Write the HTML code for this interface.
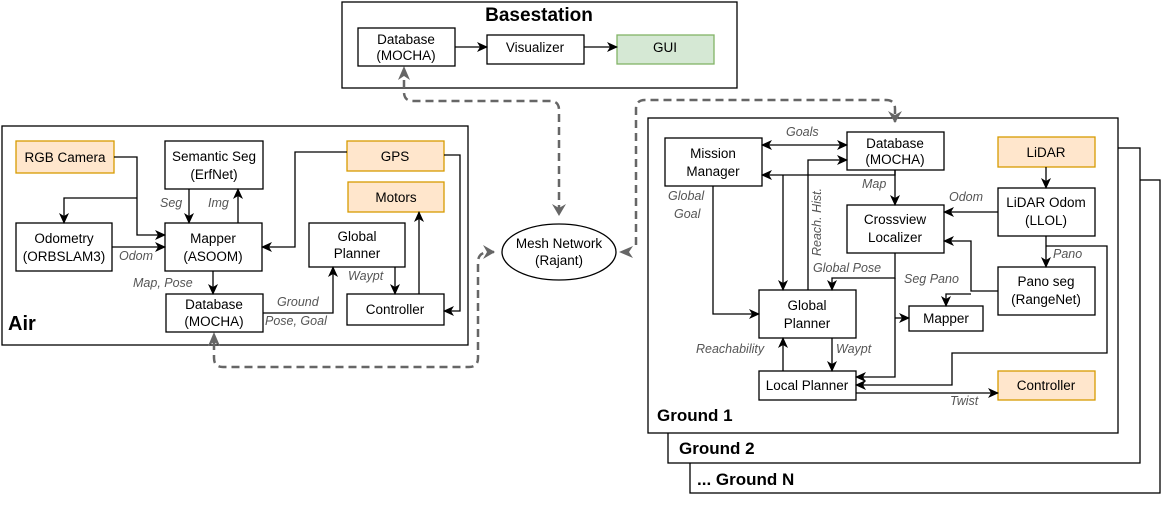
<!DOCTYPE html>
<html><head><meta charset="utf-8"><style>
body{margin:0;background:#fff;}
svg text{font-family:"Liberation Sans",Arial,sans-serif;}
.n{font-size:13.5px;fill:#000;text-anchor:middle;}
.l{font-size:12.5px;fill:#555;font-style:italic;}
.b{font-weight:bold;fill:#000;}
</style></head><body>
<svg width="1162" height="513" xmlns="http://www.w3.org/2000/svg">
<defs>
<marker id="a" markerWidth="12" markerHeight="12" refX="10" refY="6" orient="auto" markerUnits="userSpaceOnUse"><path d="M0,1 L11,6 L0,11 L3,6 z" fill="#000"/></marker>
<marker id="as" markerWidth="12" markerHeight="12" refX="1" refY="6" orient="auto" markerUnits="userSpaceOnUse"><path d="M11,1 L0,6 L11,11 L8,6 z" fill="#000"/></marker>
<marker id="g" markerWidth="14" markerHeight="14" refX="11" refY="7" orient="auto" markerUnits="userSpaceOnUse"><path d="M0,0 L12,7 L0,14 L4,7 z" fill="#666"/></marker>
</defs>
<g fill="#fff" stroke="#000" stroke-width="1.3">
<rect x="690" y="180" width="470" height="313"/>
<rect x="668" y="148" width="472" height="315"/>
<rect x="648" y="118" width="470" height="315"/>
<rect x="2" y="126" width="466" height="219"/>
<rect x="342" y="2" width="395" height="86"/>
</g>
<g fill="none" stroke="#666" stroke-width="2.5" stroke-dasharray="8,5">
<path d="M404,80 L404,92 Q404,101 413,101 L550,101 Q559,101 559,110 L559,215" marker-end="url(#g)"/>
<path d="M214,342 L214,358 Q214,367 223,367 L469,367 Q478,367 478,358 L478,262 Q478,252 490,252 L494,252" marker-end="url(#g)"/>
<path d="M636,245 L636,109 Q636,100 645,100 L886,100 Q895,100 895,109 L895,122" marker-end="url(#g)"/>
</g>
<g fill="#666"><path d="M404,66 L398,80 L404,76 L410,80 z"/><path d="M214,332 L208,346 L214,342 L220,346 z"/><path d="M619,252 L633,246 L629,252 L633,258 z"/></g>
<g stroke-width="1.3">
<g fill="#fff" stroke="#000">
<rect x="358" y="28" width="97" height="38"/><rect x="487" y="35" width="97" height="29"/>
<rect x="165" y="141" width="98" height="48"/><rect x="16" y="223" width="96" height="48"/>
<rect x="165" y="223" width="97" height="48"/><rect x="309" y="223" width="96" height="44"/>
<rect x="166" y="294" width="97" height="38"/><rect x="347" y="294" width="97" height="31"/>
<rect x="665" y="138" width="97" height="48"/><rect x="847" y="132" width="97" height="38"/>
<rect x="998" y="188" width="97" height="48"/><rect x="847" y="205" width="97" height="48"/>
<rect x="998" y="267" width="97" height="48"/><rect x="759" y="290" width="97" height="48"/>
<rect x="909" y="306" width="74" height="25"/><rect x="759" y="371" width="97" height="29"/>
</g>
<rect x="617" y="35" width="97" height="29" fill="#d5e8d4" stroke="#82b366"/>
<g fill="#ffe6cc" stroke="#d79b00">
<rect x="16" y="141" width="98" height="32"/><rect x="347" y="141" width="97" height="30"/>
<rect x="348" y="182" width="96" height="30"/><rect x="998" y="137" width="97" height="30"/>
<rect x="998" y="371" width="97" height="29"/>
</g>
<ellipse cx="559" cy="252" rx="57" ry="28" fill="#fff" stroke="#000"/>
</g>
<g fill="none" stroke="#000" stroke-width="1.3" marker-end="url(#a)">
<path d="M455,47 L487,47"/><path d="M584,47 L617,47"/>
<path d="M114,157 L137,157 L137,235 L165,235"/>
<path d="M137,198 L64,198 L64,223"/>
<path d="M112,247 L165,247"/>
<path d="M189,189 L189,223"/><path d="M238,223 L238,189"/>
<path d="M347,152 L295,152 L295,247 L262,247"/>
<path d="M444,155 L460,155 L460,311 L444,311"/>
<path d="M213,271 L213,294"/>
<path d="M263,313 L333,313 L333,267"/>
<path d="M395,267 L395,294"/>
<path d="M419,294 L419,212"/>
<path d="M762,145 L847,145" marker-start="url(#as)"/>
<path d="M808,290 L808,160 L847,160"/>
<path d="M895,170 L895,175 L762,175"/>
<path d="M783,175 L783,290"/>
<path d="M895,170 L895,205"/>
<path d="M713,186 L713,314 L759,314"/>
<path d="M895,253 L895,278 L832,278 L832,290"/>
<path d="M895,278 L895,377 L856,377"/>
<path d="M895,318 L909,318"/>
<path d="M1046,167 L1046,188"/>
<path d="M998,212 L944,212"/>
<path d="M1046,236 L1046,267"/>
<path d="M1046,246 L1107,246 L1107,353 L952,353 L952,385 L856,385"/>
<path d="M998,291 L971,291 L971,241 L944,241"/>
<path d="M971,294 L946,294 L946,306"/>
<path d="M832,338 L832,371"/>
<path d="M783,371 L783,338"/>
<path d="M856,393 L998,393"/>
</g>
<g class="n">
<text x="406" y="44">Database</text><text x="406" y="60">(MOCHA)</text>
<text x="535" y="52">Visualizer</text><text x="665" y="52">GUI</text>
<text x="65" y="162">RGB Camera</text>
<text x="214" y="161">Semantic Seg</text><text x="214" y="179">(ErfNet)</text>
<text x="395" y="161">GPS</text><text x="396" y="202">Motors</text>
<text x="64" y="243">Odometry</text><text x="64" y="261">(ORBSLAM3)</text>
<text x="213" y="243">Mapper</text><text x="213" y="261">(ASOOM)</text>
<text x="357" y="241">Global</text><text x="357" y="258">Planner</text>
<text x="214" y="309">Database</text><text x="214" y="326">(MOCHA)</text>
<text x="395" y="314">Controller</text>
<text x="559" y="248">Mesh Network</text><text x="559" y="265">(Rajant)</text>
<text x="713" y="158">Mission</text><text x="713" y="176">Manager</text>
<text x="895" y="148">Database</text><text x="895" y="164">(MOCHA)</text>
<text x="1046" y="157">LiDAR</text>
<text x="1046" y="207">LiDAR Odom</text><text x="1046" y="225">(LLOL)</text>
<text x="895" y="224">Crossview</text><text x="895" y="242">Localizer</text>
<text x="1046" y="286">Pano seg</text><text x="1046" y="304">(RangeNet)</text>
<text x="807" y="310">Global</text><text x="807" y="328">Planner</text>
<text x="946" y="323">Mapper</text>
<text x="807" y="390">Local Planner</text>
<text x="1046" y="390">Controller</text>
</g>
<g class="l">
<text x="119" y="260">Odom</text><text x="160" y="207">Seg</text><text x="208" y="207">Img</text>
<text x="133" y="287">Map, Pose</text>
<text x="277" y="306">Ground</text><text x="265" y="325">Pose, Goal</text>
<text x="348" y="280">Waypt</text>
<text x="786" y="136">Goals</text>
<text x="862" y="188">Map</text>
<text x="668" y="200">Global</text><text x="674" y="218">Goal</text>
<text x="949" y="201">Odom</text>
<text x="1053" y="258">Pano</text>
<text x="813" y="272">Global Pose</text>
<text x="904" y="283">Seg Pano</text>
<text x="836" y="353">Waypt</text>
<text x="696" y="353">Reachability</text>
<text x="950" y="405">Twist</text>
<text transform="translate(821,256) rotate(-90)">Reach. Hist.</text>
</g>
<g class="b">
<text x="539" y="21" font-size="19" text-anchor="middle">Basestation</text>
<text x="8" y="330" font-size="20">Air</text>
<text x="657" y="421" font-size="17">Ground 1</text>
<text x="679" y="454" font-size="17">Ground 2</text>
<text x="697" y="485" font-size="17">... Ground N</text>
</g>
</svg>
</body></html>
